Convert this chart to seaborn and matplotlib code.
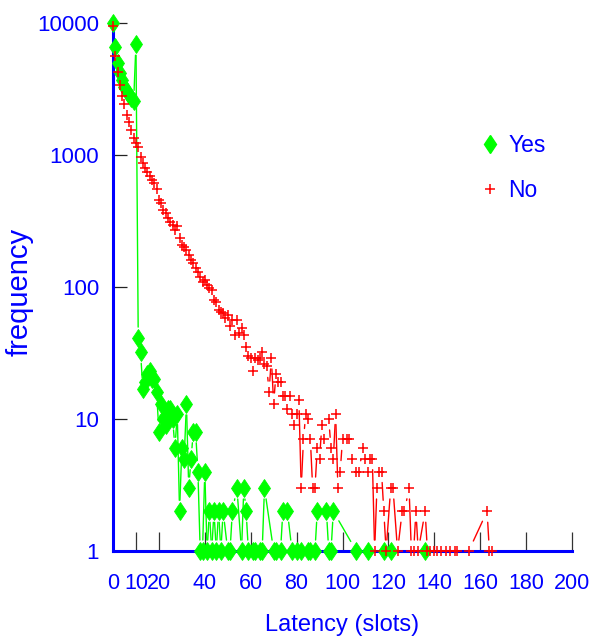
import numpy as np
import pandas as pd
import matplotlib
matplotlib.use("Agg")
import matplotlib.pyplot as plt
import seaborn as sns
from matplotlib.lines import Line2D
from matplotlib.ticker import NullLocator

# ---------------- data ----------------
yes_slots = [0, 1, 2, 3, 4, 5, 6, 7, 8, 9, 10, 11, 12, 13, 14, 15, 16, 17, 18, 19,
             20, 21, 22, 23, 24, 25, 26, 27, 28, 29, 30, 31, 32, 33, 34, 35, 36, 37, 38, 39,
             40, 41, 42, 43, 44, 45, 46, 47, 48, 50, 51, 52, 54, 56, 57, 58, 59, 61, 62, 64,
             65, 66, 70, 71, 73, 74, 76, 78, 80, 82, 85, 86, 88, 89, 93, 94, 95, 96, 106, 111,
             118, 121, 136]
yes_counts = [10000, 6600, 5000, 4200, 3700, 3300, 3050, 2850, 2700, 2550, 6900, 41, 32, 17, 19, 22, 23, 20, 20, 16,
              8, 13, 10, 9, 12, 12, 10, 6, 11, 2, 6, 5, 13, 3, 5, 8, 8, 4, 1, 1,
              4, 1, 2, 1, 2, 1, 2, 1, 2, 1, 1, 2, 3, 1, 3, 2, 1, 1, 1, 1,
              1, 3, 1, 1, 1, 2, 2, 1, 1, 1, 1, 1, 1, 2, 2, 1, 1, 2, 1, 1,
              1, 1, 1]

no_slots = [0, 1, 2, 3, 4, 5, 6, 7, 8, 9, 10, 11, 12, 13, 14, 15, 16, 17, 18, 19,
            20, 21, 22, 23, 24, 25, 26, 27, 28, 29, 30, 31, 32, 33, 34, 35, 36, 37, 38, 39,
            40, 41, 42, 43, 44, 45, 46, 47, 48, 49, 50, 51, 52, 53, 54, 55, 56, 57, 58, 59,
            60, 61, 62, 63, 64, 65, 66, 67, 68, 69, 70, 71, 72, 73, 74, 75, 76, 77, 78, 79,
            80, 81, 82, 83, 84, 85, 86, 87, 88, 89, 90, 91, 92, 94, 95, 96, 97, 98, 99, 100,
            102, 103, 104, 106, 107, 109, 110, 111, 112, 113, 114, 115, 116, 117, 118, 119, 121, 122, 124, 126,
            127, 129, 130, 131, 132, 133, 136, 137, 138, 140, 141, 143, 145, 147, 149, 150, 155, 163, 164, 165]
no_counts = [9500, 5630, 4250, 3390, 2800, 2430, 2010, 1780, 1550, 1345, 1230, 1150, 966, 870, 797, 744, 693, 647, 614, 553,
             456, 433, 383, 364, 333, 311, 295, 270, 290, 235, 208, 201, 191, 175, 160, 152, 139, 130, 119, 109,
             113, 104, 98, 95, 80, 77, 67, 65, 63, 58, 61, 51, 56, 43, 56, 45, 49, 43, 35, 30,
             29, 23, 29, 28, 29, 32, 26, 25, 16, 29, 13, 22, 19, 19, 15, 15, 12, 15, 11, 9,
             11, 14, 3, 7, 11, 10, 7, 3, 3, 6, 5, 9, 7, 10, 6, 5, 11, 3, 4, 7,
             7, 7, 5, 4, 4, 6, 5, 4, 5, 5, 1, 3, 4, 4, 2, 1, 3, 3, 1, 2,
             2, 3, 1, 1, 2, 1, 2, 1, 1, 1, 1, 1, 1, 1, 1, 1, 1, 2, 1, 1]

series_labels = ["Yes", "No"]
x_ticks = [0, 10, 20, 40, 60, 80, 100, 120, 140, 160, 180, 200]
y_ticks = [1, 10, 100, 1000, 10000]

# ---------------- style ----------------
sns.set_theme(style="white")
fam = ["Liberation Sans", "DejaVu Sans"]
plt.rcParams["font.family"] = fam

BLUE = "#0000ff"
GREEN = "#00ff00"
RED = "#ff0000"

fig = plt.figure(figsize=(5.9, 6.41), dpi=100)
ax = fig.add_axes([113 / 590, 1 - 551 / 641, 459 / 590, 528 / 641])
ax.set_yscale("log")
ax.set_xlim(0, 200)
ax.set_ylim(1, 10000)

GAP = 11  # pixels of gap around each point (gnuplot pointinterval style)


def gapped_segments(xs, ys):
    trans = ax.transData
    inv = trans.inverted()
    pts = trans.transform(np.column_stack([np.asarray(xs, float), np.asarray(ys, float)]))
    rows = []
    seg = 0
    for p0, p1 in zip(pts[:-1], pts[1:]):
        d = p1 - p0
        L = np.hypot(d[0], d[1])
        if L <= 2 * GAP:
            continue
        u = d / L
        a = inv.transform(p0 + u * GAP)
        b = inv.transform(p1 - u * GAP)
        rows.append((seg, a[0], max(a[1], 1.0)))
        rows.append((seg, b[0], max(b[1], 1.0)))
        seg += 1
    return pd.DataFrame(rows, columns=["seg", "x", "y"])


yes_seg = gapped_segments(yes_slots, yes_counts)
no_seg = gapped_segments(no_slots, no_counts)

sns.lineplot(data=yes_seg, x="x", y="y", units="seg", estimator=None, sort=False,
             color=GREEN, lw=1.0, ax=ax, legend=False, zorder=2.1)
sns.lineplot(data=no_seg, x="x", y="y", units="seg", estimator=None, sort=False,
             color=RED, lw=1.0, ax=ax, legend=False, zorder=2.2)

yes_df = pd.DataFrame({"slot": yes_slots, "count": yes_counts})
no_df = pd.DataFrame({"slot": no_slots, "count": no_counts})
sns.lineplot(data=yes_df, x="slot", y="count", estimator=None, errorbar=None,
             linestyle="", marker="d", markersize=9.5, color=GREEN, mec=GREEN, mew=0.6,
             clip_on=False, ax=ax, legend=False, zorder=3)
sns.lineplot(data=no_df, x="slot", y="count", estimator=None, errorbar=None,
             linestyle="", marker="+", markersize=7, color=RED, mec=RED, mew=1.1,
             clip_on=False, ax=ax, legend=False, zorder=3.1)

ax.set_xlim(0, 200)
ax.set_ylim(1, 10000)

# spines
for side in ["top", "right"]:
    ax.spines[side].set_visible(False)
for side in ["left", "bottom"]:
    ax.spines[side].set_color(BLUE)
    ax.spines[side].set_linewidth(2.2)
    ax.spines[side].set_zorder(2.5)

# ticks
ax.set_xticks(x_ticks)
ax.set_xticklabels([str(t) for t in x_ticks])
ax.set_yticks(y_ticks)
ax.set_yticklabels([str(t) for t in y_ticks])
ax.yaxis.set_minor_locator(NullLocator())
ax.xaxis.set_minor_locator(NullLocator())
ax.tick_params(axis="x", bottom=True, direction="in", length=14, width=0.9,
               color="#333333", labelcolor=BLUE, labelsize=15.5, pad=16)
ax.tick_params(axis="y", left=True, direction="in", length=10, width=0.9,
               color="#222222", labelcolor=BLUE, labelsize=16, pad=10)
ax.grid(False)

# labels
ax.set_xlabel("Latency (slots)", color=BLUE, fontsize=17)
ax.xaxis.set_label_coords(0.499, -0.12)
ax.set_ylabel("frequency", color=BLUE, fontsize=21)
ax.yaxis.set_label_coords(-0.172, 0.49)

# legend
handles = [
    Line2D([], [], linestyle="", marker="d", markersize=9.5, color=GREEN, mec=GREEN),
    Line2D([], [], linestyle="", marker="+", markersize=7, color=RED, mec=RED, mew=1.1),
]
ax.legend(handles, series_labels, loc="center left", bbox_to_anchor=(0.804, 0.726),
          frameon=False, labelcolor=BLUE, fontsize=16.5, handlelength=0.7,
          handletextpad=0.45, labelspacing=0.95, borderpad=0, borderaxespad=0)

fig.savefig("out.png", dpi=100)
